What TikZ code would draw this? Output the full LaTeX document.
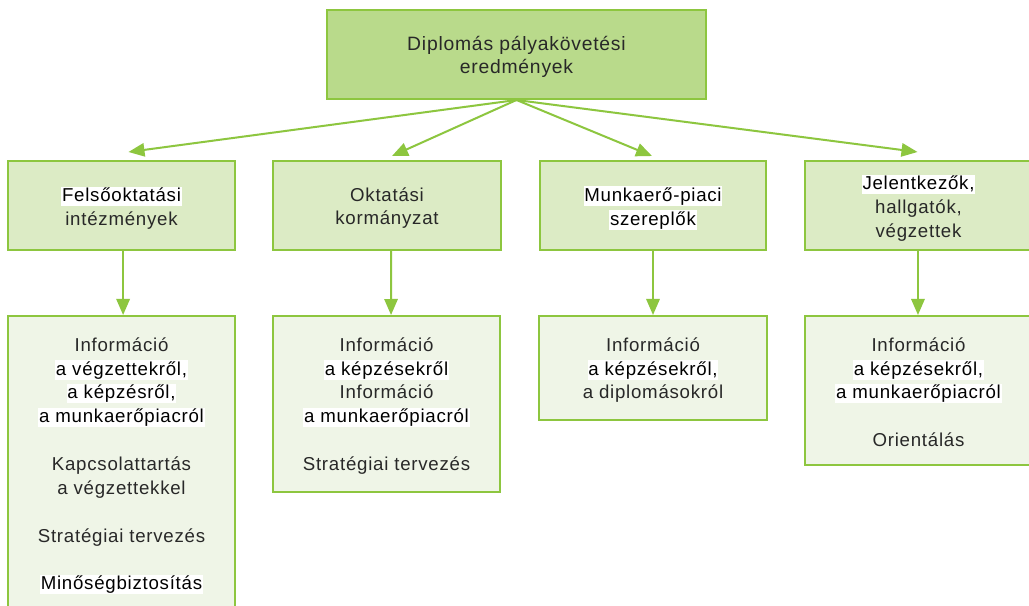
\documentclass[tikz,border=0pt]{standalone}
\usepackage{fontspec}
\setmainfont{Liberation Sans}[LetterSpace=4]
\usetikzlibrary{arrows.meta,calc}
\definecolor{gline}{RGB}{141,198,63}
\definecolor{gtop}{RGB}{185,218,139}
\definecolor{gmid}{RGB}{220,235,197}
\definecolor{glow}{RGB}{239,245,231}
\definecolor{txtgray}{RGB}{40,40,40}
\newcommand\hlw[1]{{\setlength{\fboxsep}{0pt}\colorbox{white}{\color{black}\vrule height .8em depth .24em width 0pt\kern.5pt#1\kern.5pt}}}
\newcommand\firstln{\vrule height .8em depth 0pt width 0pt}
\tikzset{
  box/.style={draw=gline, line width=1.5pt, inner sep=0pt},
  topbox/.style={box, fill=gtop, minimum width=284.25pt, minimum height=66.75pt},
  midbox/.style={box, fill=gmid, minimum height=66.75pt},
  lowbox/.style={box, fill=glow},
  txt/.style={align=center, text=txtgray, inner sep=0pt, font=\fontsize{14}{17.9}\selectfont},
  arr/.style={draw=gline, line width=1.5pt, -{Triangle[length=12pt,width=10pt]}},
}
\begin{document}
\begin{tikzpicture}[x=0.75pt,y=-0.75pt]
\useasboundingbox (0,0) rectangle (1029,606);
\clip (0,0) rectangle (1029,606);
\fill[white] (0,0) rectangle (1029,606);
% top
\node[topbox] (top) at (516.5,54.5) {};
\node[txt, font=\fontsize{14.5}{16.8}\selectfont] (toptxt) at (516.5,57) {Diplomás pályakövetési\\eredmények};
% row 2
\node[midbox, minimum width=170.25pt] (A) at (121.5,205.5) {};
\node[midbox, minimum width=171pt] (B) at (387,205.5) {};
\node[midbox, minimum width=169.5pt] (C) at (653,205.5) {};
\node[midbox, minimum width=170.25pt] (D) at (918.5,205.5) {};
\node[txt] (Atxt) at (121.5,208) {\hlw{Felsőoktatási}\\intézmények};
\node[txt] (Btxt) at (387,208) {Oktatási\\kormányzat};
\node[txt] (Ctxt) at (653,208) {\hlw{Munkaerő-piaci}\\\hlw{szereplők}};
\node[txt] (Dtxt) at (918.5,208) {\hlw{Jelentkezők,}\\hallgatók,\\végzettek};
% row 3
\node[lowbox, minimum width=170.25pt, minimum height=236.25pt, anchor=north] (A2) at (121.5,315) {};
\node[lowbox, minimum width=170.25pt, minimum height=132pt, anchor=north] (B2) at (386.5,315) {};
\node[lowbox, minimum width=171pt, minimum height=78pt, anchor=north] (C2) at (653,315) {};
\node[lowbox, minimum width=170.25pt, minimum height=111.75pt, anchor=north] (D2) at (918.5,315) {};
\node[txt, anchor=north] (A2txt) at (121.5,336) {\firstln Információ\\\hlw{a végzettekről,}\\\hlw{a képzésről,}\\\hlw{a munkaerőpiacról}\\[17.9pt]Kapcsolattartás\\a végzettekkel\\[17.9pt]Stratégiai tervezés\\[17.9pt]\hlw{Minőségbiztosítás}};
\node[txt, anchor=north] (B2txt) at (386.5,336) {\firstln Információ\\\hlw{a képzésekről}\\Információ\\\hlw{a munkaerőpiacról}\\[17.9pt]Stratégiai tervezés};
\node[txt, anchor=north] (C2txt) at (653,336) {\firstln Információ\\\hlw{a képzésekről,}\\a diplomásokról};
\node[txt, anchor=north] (D2txt) at (918.5,336) {\firstln Információ\\\hlw{a képzésekről,}\\\hlw{a munkaerőpiacról}\\[17.9pt]Orientálás};
% arrows
\draw[arr] (top.south) -- ($(A.north)+(7,-8)$);
\draw[arr] (top.south) -- ($(B.north)+(5,-4)$);
\draw[arr] (top.south) -- ($(C.north)+(-1,-4)$);
\draw[arr] (top.south) -- ($(D.north)+(-1,-8)$);
\draw[arr] ([xshift=1.2pt]A.south) -- ([xshift=1.2pt]A2.north);
\draw[arr] ([xshift=3pt]B.south) -- ([xshift=3.4pt]B2.north);
\draw[arr] (C.south) -- (C2.north);
\draw[arr] ([xshift=-0.4pt]D.south) -- ([xshift=-0.4pt]D2.north);
\end{tikzpicture}
\end{document}
